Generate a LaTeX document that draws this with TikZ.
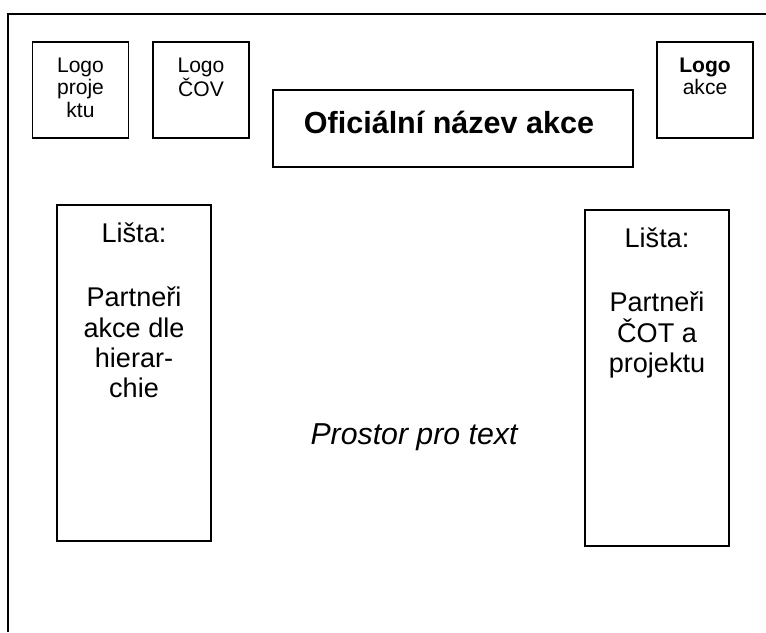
\documentclass[tikz,border=0pt]{standalone}
\usepackage{fontspec}
\setmainfont{Liberation Sans}
\usetikzlibrary{positioning}
\tikzset{
  frameline/.style={line width=1.1pt},
  logobox/.style={draw, line width=1.1pt, inner sep=0pt, minimum width=72pt, minimum height=72pt},
  listabox/.style={draw, line width=1.1pt, inner sep=0pt, minimum height=252pt},
  logotext/.style={inner sep=0pt, align=center, font=\fontsize{15.8}{16.9}\selectfont},
  listatext/.style={inner sep=0pt, align=center, font=\fontsize{20.3}{22.8}\selectfont},
}
\begin{document}
\begin{tikzpicture}[x=0.75pt, y=-0.75pt]
			%%%%% START %%%%%
			\useasboundingbox (0, 0) rectangle (766, 632);
			
			% page frame (open to the right and bottom)
			\draw[frameline] (766, 14) -- (8, 14) -- (8, 632);
			
			% logos
			\node[logobox] (lproj) at (80.5, 90) {};
			\node[logotext, below=12pt of lproj.north] (lprojtext) {Logo\\proje\\ktu};
			
			\node[logobox] (lcov) at (201, 90) {};
			\node[logotext, below=12pt of lcov.north] (lcovtext) {Logo\\ČOV};
			
			\node[logobox] (lakce) at (705, 90) {};
			\node[logotext, below=12pt of lakce.north] (lakcetext) {\textbf{Logo}\\akce};
			
			% title
			\node[draw, line width=1.1pt, inner sep=0pt, minimum width=270pt, minimum height=57.75pt] (title) at (453, 128.5) {};
			\node[inner sep=0pt, font=\fontsize{22.9}{26}\selectfont\bfseries, below=16.5pt of title.north, xshift=-3pt] (titletext) {Oficiální název akce};
			
			% side strips
			\node[listabox, minimum width=115.5pt] (lleft) at (134, 373) {};
			\node[listatext, below=14pt of lleft.north] (llefttext) {Lišta:\\[25pt]Partneři\\akce dle\\hierar-\\chie};
			
			\node[listabox, minimum width=108pt] (lright) at (657, 378) {};
			\node[listatext, below=14pt of lright.north] (lrighttext) {Lišta:\\[25pt]Partneři\\ČOT a\\projektu};
			
			% body
			\node[inner sep=0pt, font=\fontsize{22.7}{26}\selectfont\itshape] (body) at (414, 437) {Prostor pro text};
			
			%%%%% END %%%%%
\end{tikzpicture}
\end{document}
